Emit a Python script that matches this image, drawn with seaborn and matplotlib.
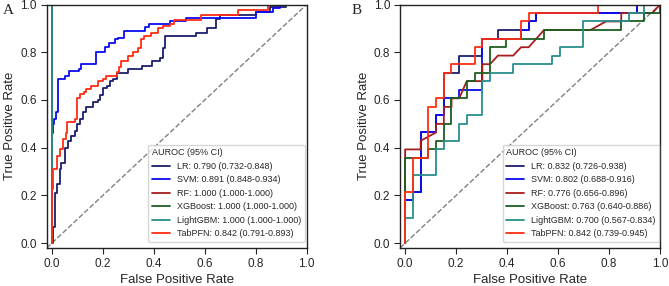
import matplotlib
matplotlib.use("Agg")
import matplotlib.pyplot as plt
import numpy as np
import pandas as pd
import seaborn as sns

models = ["LR", "SVM", "RF", "XGBoost", "LightGBM", "TabPFN"]
colors = ["#1b1f6b", "#0b0bef", "#a81c1c", "#1b5e20", "#2a8d8d", "#ff2d12"]

# AUROC with 95% CI
a_auc = [0.790, 0.891, 1.000, 1.000, 1.000, 0.842]
a_lo = [0.732, 0.848, 1.000, 1.000, 1.000, 0.791]
a_hi = [0.848, 0.934, 1.000, 1.000, 1.000, 0.893]
b_auc = [0.832, 0.802, 0.776, 0.763, 0.700, 0.842]
b_lo = [0.726, 0.688, 0.656, 0.640, 0.567, 0.739]
b_hi = [0.938, 0.916, 0.896, 0.886, 0.834, 0.945]

# panel A: roc points (step curves)
a_lr_fpr = [0, 0.005, 0.012, 0.022, 0.031, 0.038, 0.051, 0.064, 0.077, 0.090,
            0.100, 0.110, 0.122, 0.135, 0.160, 0.180, 0.190, 0.200, 0.215, 0.227,
            0.240, 0.254, 0.300, 0.352, 0.392, 0.425, 0.438, 0.444, 0.567, 0.610,
            0.646, 0.660, 0.800, 0.855, 0.920, 1.000]
a_lr_tpr = [0, 0.070, 0.210, 0.250, 0.310, 0.335, 0.400, 0.430, 0.450, 0.470,
            0.500, 0.520, 0.550, 0.570, 0.590, 0.600, 0.620, 0.650, 0.660, 0.680,
            0.690, 0.714, 0.728, 0.741, 0.763, 0.777, 0.818, 0.867, 0.880, 0.900,
            0.940, 0.955, 0.970, 0.990, 1.000, 1.000]
a_svm_fpr = [0, 0, 0.004, 0.010, 0.017, 0.025, 0.050, 0.066, 0.105, 0.115,
             0.175, 0.210, 0.225, 0.247, 0.260, 0.285, 0.365, 0.380, 0.463, 0.528,
             0.800, 0.867, 0.894, 1.000]
a_svm_tpr = [0, 0.460, 0.500, 0.520, 0.550, 0.690, 0.700, 0.720, 0.730, 0.750,
             0.800, 0.820, 0.840, 0.855, 0.860, 0.890, 0.905, 0.920, 0.930, 0.945,
             0.970, 0.985, 1.000, 1.000]
a_rf_fpr = [0, 0, 1]
a_rf_tpr = [0, 1, 1]
a_xgb_fpr = [0, 0, 1]
a_xgb_tpr = [0, 1, 1]
a_lgbm_fpr = [0, 0, 1]
a_lgbm_tpr = [0, 1, 1]
a_tab_fpr = [0, 0, 0.005, 0.022, 0.031, 0.044, 0.054, 0.061, 0.090, 0.100,
             0.110, 0.125, 0.136, 0.155, 0.180, 0.200, 0.214, 0.254, 0.265, 0.273,
             0.300, 0.317, 0.337, 0.350, 0.363, 0.390, 0.417, 0.437, 0.463, 0.480,
             0.587, 0.730, 0.850, 1.000]
a_tab_tpr = [0, 0.226, 0.310, 0.365, 0.393, 0.435, 0.463, 0.508, 0.520, 0.610,
             0.625, 0.635, 0.644, 0.660, 0.680, 0.686, 0.700, 0.717, 0.740, 0.763,
             0.784, 0.800, 0.818, 0.854, 0.867, 0.880, 0.900, 0.910, 0.920, 0.937,
             0.958, 0.975, 1.000, 1.000]

# panel B: roc vertices
b_lr_fpr = [0, 0, 0.030, 0.030, 0.061, 0.061, 0.121, 0.121, 0.152, 0.152, 0.212, 0.212,
            0.303, 0.303, 0.364, 0.364, 0.485, 0.485, 0.515, 0.515, 0.909, 0.909, 1]
b_lr_tpr = [0, 0.179, 0.179, 0.214, 0.214, 0.464, 0.464, 0.536, 0.536, 0.714, 0.714, 0.786,
            0.786, 0.857, 0.857, 0.893, 0.893, 0.929, 0.929, 0.964, 0.964, 1, 1]
b_svm_fpr = [0, 0, 0.030, 0.030, 0.061, 0.061, 0.121, 0.121, 0.152, 0.152, 0.212, 0.212,
             0.303, 0.303, 0.455, 0.455, 0.485, 0.485, 0.515, 0.515, 0.909, 0.909, 1]
b_svm_tpr = [0, 0.179, 0.179, 0.214, 0.214, 0.464, 0.464, 0.536, 0.536, 0.607, 0.607, 0.643,
             0.643, 0.857, 0.857, 0.893, 0.893, 0.929, 0.929, 0.964, 0.964, 1, 1]
b_rf_fpr = [0, 0, 0.061, 0.061, 0.121, 0.121, 0.152, 0.152, 0.182, 0.182, 0.212, 0.242,
            0.303, 0.303, 0.333, 0.364, 0.424, 0.455, 0.485, 0.545, 0.727, 0.788, 0.848,
            0.848, 0.970, 1]
b_rf_tpr = [0, 0.393, 0.393, 0.429, 0.464, 0.500, 0.500, 0.571, 0.571, 0.607, 0.607, 0.679,
            0.679, 0.750, 0.750, 0.786, 0.786, 0.821, 0.821, 0.893, 0.893, 0.929, 0.929,
            0.964, 0.964, 1]
b_xgb_fpr = [0, 0, 0.091, 0.091, 0.121, 0.121, 0.152, 0.152, 0.182, 0.182, 0.242, 0.242,
             0.273, 0.273, 0.333, 0.333, 0.394, 0.394, 0.545, 0.545, 0.848, 0.848, 0.939,
             0.939, 1, 1]
b_xgb_tpr = [0, 0.357, 0.357, 0.393, 0.393, 0.429, 0.429, 0.500, 0.500, 0.607, 0.607, 0.679,
             0.679, 0.714, 0.714, 0.821, 0.821, 0.857, 0.857, 0.893, 0.893, 0.929, 0.929,
             0.964, 0.964, 1]
b_lgbm_fpr = [0, 0, 0.030, 0.030, 0.121, 0.121, 0.152, 0.152, 0.212, 0.212, 0.242, 0.242,
              0.303, 0.303, 0.333, 0.333, 0.424, 0.424, 0.576, 0.576, 0.606, 0.606, 0.697,
              0.697, 0.879, 0.879, 0.939, 0.939, 1]
b_lgbm_tpr = [0, 0.107, 0.107, 0.286, 0.286, 0.393, 0.393, 0.429, 0.429, 0.500, 0.500, 0.536,
              0.536, 0.679, 0.679, 0.714, 0.714, 0.750, 0.750, 0.786, 0.786, 0.821, 0.821,
              0.929, 0.929, 0.964, 0.964, 1, 1]
b_tab_fpr = [0, 0, 0.030, 0.030, 0.091, 0.091, 0.121, 0.121, 0.152, 0.152, 0.182, 0.182,
             0.273, 0.273, 0.303, 0.303, 0.455, 0.455, 0.485, 0.485, 0.758, 0.758, 1]
b_tab_tpr = [0, 0.214, 0.214, 0.357, 0.357, 0.571, 0.571, 0.607, 0.607, 0.714, 0.714, 0.750,
             0.750, 0.821, 0.821, 0.857, 0.857, 0.929, 0.929, 0.964, 0.964, 1, 1]


def make_df(fprs, tprs, auc, lo, hi):
    parts = []
    for m, f, t, a, l, h in zip(models, fprs, tprs, auc, lo, hi):
        lab = f"{m}: {a:.3f} ({l:.3f}-{h:.3f})"
        parts.append(pd.DataFrame({"fpr": f, "tpr": t, "model": lab}))
    return pd.concat(parts, ignore_index=True)


df_a = make_df([a_lr_fpr, a_svm_fpr, a_rf_fpr, a_xgb_fpr, a_lgbm_fpr, a_tab_fpr],
               [a_lr_tpr, a_svm_tpr, a_rf_tpr, a_xgb_tpr, a_lgbm_tpr, a_tab_tpr],
               a_auc, a_lo, a_hi)
df_b = make_df([b_lr_fpr, b_svm_fpr, b_rf_fpr, b_xgb_fpr, b_lgbm_fpr, b_tab_fpr],
               [b_lr_tpr, b_svm_tpr, b_rf_tpr, b_xgb_tpr, b_lgbm_tpr, b_tab_tpr],
               b_auc, b_lo, b_hi)

sns.set_style("ticks")
plt.rcParams["font.family"] = ["Liberation Sans", "DejaVu Sans"]

fig = plt.figure(figsize=(6.69, 2.86), dpi=100)
ax_a = fig.add_axes([46.7 / 669, 38 / 286, 260 / 669, 243.5 / 286])
ax_b = fig.add_axes([400 / 669, 38 / 286, 260 / 669, 243.5 / 286])


def draw(ax, df, step, leg_x):
    ax.axline((0, 0), slope=1, color="gray", ls="--", lw=1, zorder=1)
    kw = {"drawstyle": "steps-post"} if step else {}
    sns.lineplot(data=df, x="fpr", y="tpr", hue="model",
                 hue_order=list(df["model"].unique()), palette=colors,
                 sort=False, estimator=None, errorbar=None, lw=1.3, ax=ax, **kw)
    ax.set_xlim(-0.02, 1.0)
    ax.set_ylim(-0.02, 1.0)
    ticks = np.arange(0, 1.01, 0.2)
    ax.set_xticks(ticks)
    ax.set_yticks(ticks)
    ax.set_xticklabels([f"{t:.1f}" for t in ticks])
    ax.set_yticklabels([f"{t:.1f}" for t in ticks])
    ax.tick_params(labelsize=8.5, length=4, width=0.8, pad=3)
    ax.set_xlabel("False Positive Rate", fontsize=9.5, labelpad=3)
    ax.set_ylabel("True Positive Rate", fontsize=9.5, labelpad=3)
    for s in ax.spines.values():
        s.set_linewidth(1)
        s.set_color("#222222")
    sns.move_legend(ax, "lower right", bbox_to_anchor=(leg_x, 0.025),
                    borderaxespad=0, title="AUROC (95% CI)", fontsize=6.5,
                    title_fontsize=6.5, alignment="left", frameon=True)


draw(ax_a, df_a, True, 0.993)
draw(ax_b, df_b, False, 0.998)

fig.text(3 / 669, 1 - 14 / 286, "A", fontsize=11, family=["Liberation Serif", "DejaVu Serif"])
fig.text(352 / 669, 1 - 14 / 286, "B", fontsize=11, family=["Liberation Serif", "DejaVu Serif"])

fig.savefig("out.png", dpi=100)
